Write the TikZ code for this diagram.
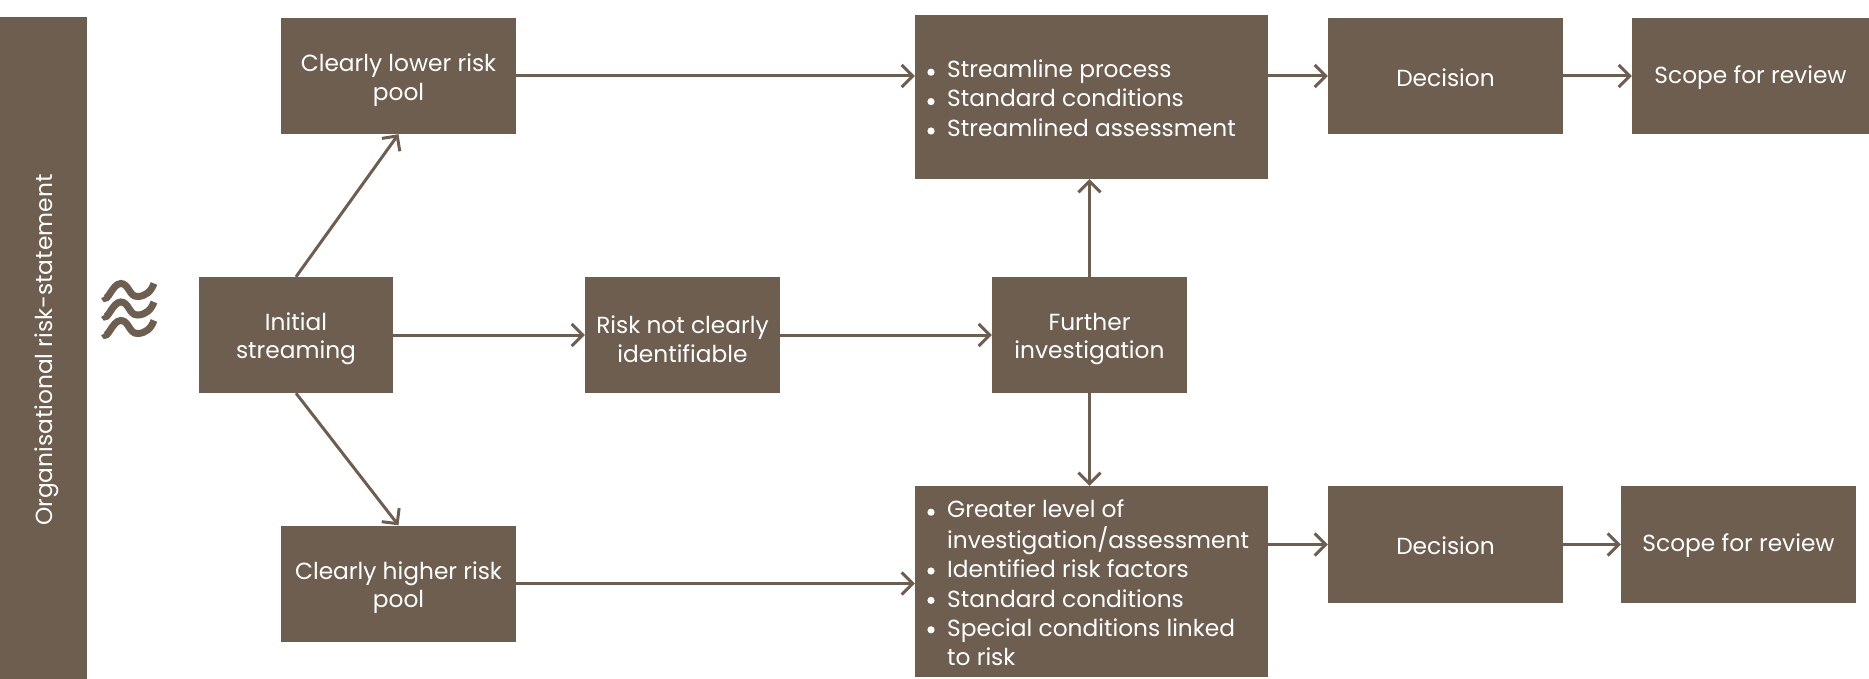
\documentclass[tikz,border=0pt]{standalone}
\usepackage{fontspec}
\setmainfont{Poppins}
\usetikzlibrary{arrows.meta}
\definecolor{boxbrown}{HTML}{6D5E50}
\tikzset{
  box/.style={fill=boxbrown, inner sep=0pt},
  lbl/.style={text=white, inner sep=0pt, align=center,
    font=\fontsize{23.3}{28.5}\selectfont},
  conn/.style={draw=boxbrown, line width=3pt,
    -{Straight Barb[length=11pt,width=22pt,line width=3pt]}},
  wave/.style={draw=boxbrown, line width=7pt},
  bulletdot/.style={fill=white},
  bullettext/.style={text=white, inner sep=0pt, anchor=base west,
    font=\fontsize{23.3}{29.4}\selectfont}
}
\begin{document}
\begin{tikzpicture}[x=1pt,y=-1pt]
\useasboundingbox (0,0) rectangle (1869,679);

% side bar
\node[box, minimum width=87pt, minimum height=662pt, anchor=north west] (bar) at (0,17) {};
\node[lbl, rotate=90] (bartxt) at ([xshift=3pt,yshift=-2pt]bar.center) {Organisational risk-statement};

% wave symbol
\foreach \yy in {290,308.5,327}{
  \draw[wave] (104,\yy+6.5) to[out=-70,in=180] (120.7,\yy-6.5)
     to[out=0,in=180] (137.3,\yy+6.5) to[out=0,in=250] (154,\yy-6.5);
}

% boxes
\node[box, minimum width=235pt, minimum height=116pt] (low) at (398.5,76) {};
\node[box, minimum width=194pt, minimum height=116pt] (init) at (296,335) {};
\node[box, minimum width=235pt, minimum height=116pt] (high) at (398.5,583.5) {};
\node[box, minimum width=195pt, minimum height=116pt] (risk) at (682.5,335) {};
\node[box, minimum width=195pt, minimum height=116pt] (fur) at (1089.5,335) {};
\node[box, minimum width=353pt, minimum height=164pt] (top) at (1091.5,97) {};
\node[box, minimum width=353pt, minimum height=191pt] (bot) at (1091.5,581.5) {};
\node[box, minimum width=235pt, minimum height=116pt] (dec1) at (1445.5,76) {};
\node[box, minimum width=237pt, minimum height=116pt] (sc1) at (1750.5,76) {};
\node[box, minimum width=235pt, minimum height=117pt] (dec2) at (1445.5,544.5) {};
\node[box, minimum width=235pt, minimum height=117pt] (sc2) at (1738.5,544.5) {};

% labels
\node[lbl] (lowt)  at ([yshift=-4pt]low.center)  {Clearly lower risk\\pool};
\node[lbl] (initt) at ([yshift=-4pt]init.center) {Initial\\streaming};
\node[lbl] (hight) at ([yshift=-4pt]high.center) {Clearly higher risk\\pool};
\node[lbl] (riskt) at ([yshift=-4pt]risk.center) {Risk not clearly\\identifiable};
\node[lbl] (furt)  at ([yshift=-4pt]fur.center)  {Further\\investigation};
\node[lbl] (dec1t) at ([yshift=-1.5pt]dec1.center) {Decision};
\node[lbl] (sc1t)  at ([yshift=-1.5pt]sc1.center)  {Scope for review};
\node[lbl] (dec2t) at ([yshift=-1.5pt]dec2.center) {Decision};
\node[lbl] (sc2t)  at ([yshift=-1.5pt]sc2.center)  {Scope for review};

% bullet texts
\node[bullettext] (toptxt) at (947,77.5) {\begin{tabular}[t]{@{}l@{}}
Streamline process\\
Standard conditions\\
Streamlined assessment
\end{tabular}};
\node[bullettext] (bottxt) at (947,517.5) {\begin{tabular}[t]{@{}l@{}}
Greater level of\\
investigation/assessment\\
Identified risk factors\\
Standard conditions\\
Special conditions linked\\
to risk
\end{tabular}};

% bullet dots
\foreach \by in {72.2,101.6,131.0,512.2,571.0,600.4,629.8}{
  \fill[bulletdot] (931,\by) circle (3.6pt);
}

% connectors
\draw[conn] (low.east) -- (low.east -| top.west);
\draw[conn] (dec1.west -| top.east) -- (dec1.west);
\draw[conn] (dec1.east) -- (sc1.west);
\draw[conn] (init.north) -- (low.south);
\draw[conn] (init.south) -- (high.north);
\draw[conn] (init.east) -- (risk.west);
\draw[conn] (risk.east) -- (fur.west);
\draw[conn] (fur.north) -- (fur.north |- top.south);
\draw[conn] (fur.south) -- (fur.south |- bot.north);
\draw[conn] (high.east) -- (high.east -| bot.west);
\draw[conn] (dec2.west -| bot.east) -- (dec2.west);
\draw[conn] (dec2.east) -- (sc2.west);
\end{tikzpicture}
\end{document}
